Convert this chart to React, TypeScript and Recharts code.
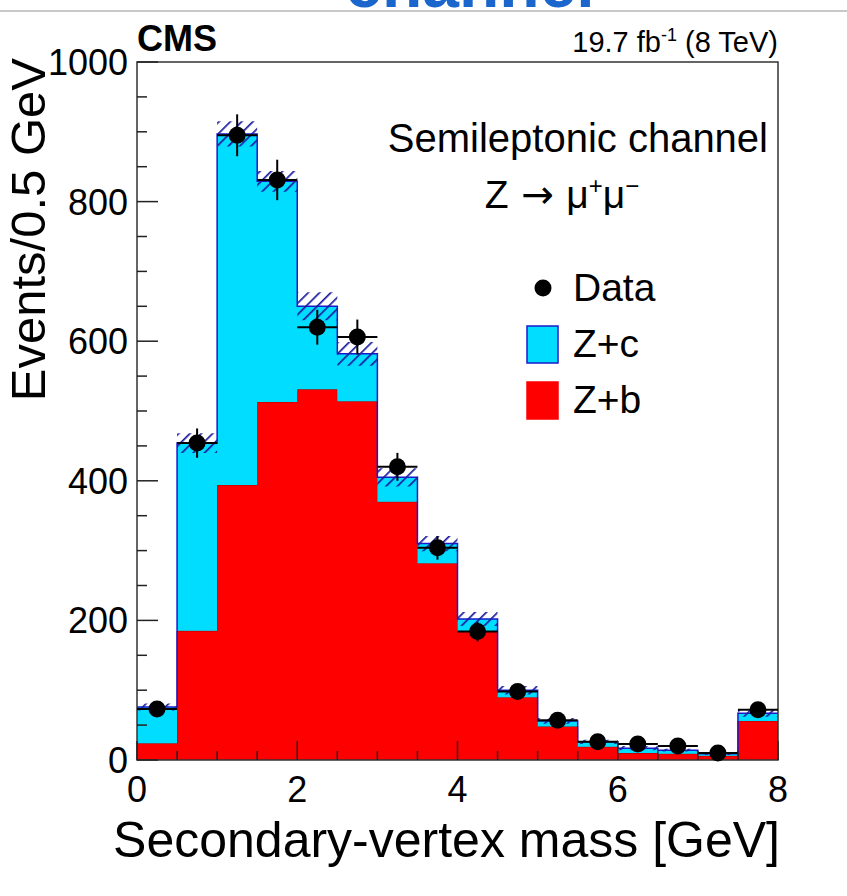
import { ComposedChart, Area, Scatter, ErrorBar, XAxis, YAxis, ReferenceArea, Legend } from 'recharts';

// bin edges of the secondary-vertex mass histogram (GeV)
const binEdges = [0, 0.5, 1, 1.5, 2, 2.5, 3, 3.5, 4, 4.5, 5, 5.5, 6, 6.5, 7, 7.5, 8];

// stacked simulation, events per bin
const zbCounts = [24, 185, 394, 513, 531, 514, 370, 282, 184, 90, 48, 19, 10, 9, 6, 56];
const zcCounts = [52, 269, 503, 316, 119, 68, 35, 28, 18, 10, 8, 7, 7, 5, 3, 11];
const mcErr = [5, 14, 18, 15, 20, 17, 13, 11, 10, 6, 4, 3, 3, 2, 2, 5];

// measured data
const dataCounts = [73, 454, 895, 831, 620, 606, 420, 304, 184, 98, 57, 26, 23, 20, 10, 72];
const dataErr = [9, 21, 30, 29, 25, 25, 20, 17, 14, 10, 8, 5, 5, 4, 3, 8];

const xTicks = binEdges;
const yTicks = [0, 50, 100, 150, 200, 250, 300, 350, 400, 450, 500, 550, 600, 650, 700, 750, 800, 850, 900, 950, 1000];

const ZB_FILL = '#ff0000';
const ZB_LINE = '#990000';
const ZC_FILL = '#00ddff';
const ZC_LINE = '#1a1acc';
const HATCH = '#1a1a9e';

const legendItems = [
  { label: 'Data', kind: 'marker' },
  { label: 'Z+c', kind: 'box', fill: ZC_FILL, stroke: ZC_LINE },
  { label: 'Z+b', kind: 'box', fill: ZB_FILL, stroke: ZB_FILL },
];

// one row per bin edge; the last edge repeats the last bin so the step closes at 8 GeV
const edgeRows = binEdges.map((x, i) => {
  const k = Math.min(i, zbCounts.length - 1);
  const total = zbCounts[k] + zcCounts[k];
  return { x, zb: zbCounts[k], zc: zcCounts[k], band: [total - mcErr[k], total + mcErr[k]] };
});

const points = dataCounts.map((y, i) => ({
  x: (binEdges[i] + binEdges[i + 1]) / 2,
  y,
  err: dataErr[i],
  xerr: (binEdges[i + 1] - binEdges[i]) / 2,
}));

const Y_GAP = 9;
const X_GAP = 16;
const TICK_COLOR = '#222';

const YTick = (props: any) => {
  const { x, y, payload } = props;
  const v = payload.value;
  const major = v % 200 === 0;
  const left = x + Y_GAP;
  return (
    <g>
      <line x1={left} x2={left + (major ? 21 : 10)} y1={y} y2={y} stroke={TICK_COLOR} strokeWidth={1.5} />
      {major && (
        <text x={x} y={y} dy="0.36em" textAnchor="end" fontSize={36} fill="#000">
          {v}
        </text>
      )}
    </g>
  );
};

const XTick = (props: any) => {
  const { x, y, payload } = props;
  const v = payload.value;
  const major = v % 2 === 0;
  const base = y - X_GAP;
  return (
    <g>
      <line x1={x} x2={x} y1={base} y2={base - (major ? 19 : 9)} stroke={TICK_COLOR} strokeWidth={1.5} />
      {major && (
        <text x={x} y={y} dy="0.72em" textAnchor="middle" fontSize={36} fill="#000">
          {v}
        </text>
      )}
    </g>
  );
};

const renderLegend = () => (
  <svg width={240} height={170}>
    {legendItems.map((item, i) => {
      const cy = 28 + i * 56;
      return (
        <g key={item.label}>
          {item.kind === 'marker' ? (
            <circle cx={23} cy={cy} r={8.5} fill="#000" />
          ) : (
            <rect x={7} y={cy - 18} width={31} height={37} fill={item.fill} stroke={item.stroke} strokeWidth={1.5} />
          )}
          <text x={53} y={cy + 13} fontSize={39} fill="#000">
            {item.label}
          </text>
        </g>
      );
    })}
  </svg>
);

const DataDot = (props: any) => <circle cx={props.cx} cy={props.cy} r={8.5} fill="#000" />;

export default function App() {
  return (
    <div
      style={{
        position: 'absolute',
        left: 0,
        top: 0,
        width: 847,
        height: 896,
        background: '#fff',
        fontFamily: '"Liberation Sans", Arial, Helvetica, sans-serif',
      }}
    >
      <ComposedChart
        width={847}
        height={896}
        data={edgeRows}
        margin={{ top: 62, right: 69, bottom: 76, left: 77 }}
      >
        <XAxis
          dataKey="x"
          type="number"
          domain={[0, 8]}
          ticks={xTicks}
          interval={0}
          height={60}
          tickSize={0}
          tickMargin={X_GAP}
          axisLine={false}
          tickLine={false}
          tick={<XTick />}
        />
        <YAxis
          type="number"
          domain={[0, 1000]}
          ticks={yTicks}
          interval={0}
          width={60}
          tickSize={0}
          tickMargin={Y_GAP}
          axisLine={false}
          tickLine={false}
          tick={<YTick />}
        />
        <Area
          type="stepAfter"
          dataKey="zb"
          stackId="mc"
          fill={ZB_FILL}
          fillOpacity={1}
          stroke={ZB_LINE}
          strokeWidth={1}
          isAnimationActive={false}
          activeDot={false}
        />
        <Area
          type="stepAfter"
          dataKey="zc"
          stackId="mc"
          fill={ZC_FILL}
          fillOpacity={1}
          stroke={ZC_LINE}
          strokeWidth={1.5}
          isAnimationActive={false}
          activeDot={false}
        />
        <Area
          type="stepAfter"
          dataKey="band"
          fill="url(#mcHatch)"
          fillOpacity={1}
          stroke="none"
          legendType="none"
          isAnimationActive={false}
          activeDot={false}
        />
        <Scatter data={points} dataKey="y" shape={<DataDot />} isAnimationActive={false}>
          <ErrorBar dataKey="err" direction="y" width={0} stroke="#000" strokeWidth={2} />
          <ErrorBar dataKey="xerr" direction="x" width={0} stroke="#000" strokeWidth={2} />
        </Scatter>
        <ReferenceArea x1={0} x2={8} y1={0} y2={1000} fill="none" stroke="#333" strokeWidth={1.5} />
        <Legend
          layout="vertical"
          align="center"
          verticalAlign="middle"
          content={renderLegend}
          wrapperStyle={{ position: 'absolute', left: 520, top: 260, width: 240, height: 170 }}
        />
      </ComposedChart>

      <svg
        width={847}
        height={896}
        style={{ position: 'absolute', left: 0, top: 0, pointerEvents: 'none' }}
      >
        <defs>
          <pattern id="mcHatch" patternUnits="userSpaceOnUse" width={8} height={8} patternTransform="rotate(45)">
            <line x1={0} y1={0} x2={0} y2={8} stroke={HATCH} strokeWidth={3.4} />
          </pattern>
        </defs>
        <text x={470} y={7} textAnchor="middle" fontSize={66} fontWeight="bold" fill="#1a66cc">
          channel
        </text>
        <line x1={0} x2={847} y1={11} y2={11} stroke="#c8c8c8" strokeWidth={2} />
        <text x={137} y={51} fontSize={36} fontWeight="bold" fill="#000">
          CMS
        </text>
        <text x={778} y={52} fontSize={29} textAnchor="end" fill="#000">
          19.7 fb
          <tspan dy={-11} fontSize={18}>-1</tspan>
          <tspan dy={11}> (8 TeV)</tspan>
        </text>
        <text x={768} y={152} textAnchor="end" fontSize={40} fill="#000">
          Semileptonic channel
        </text>
        <text x={562} y={208} textAnchor="middle" fontSize={39} fill="#000">
          Z
          <tspan fontFamily='"DejaVu Sans", sans-serif'> → </tspan>
          μ
          <tspan dy={-14} fontSize={24}>+</tspan>
          <tspan dy={14}>μ</tspan>
          <tspan dy={-14} fontSize={24}>−</tspan>
        </text>
        <text transform="translate(45,58) rotate(-90)" textAnchor="end" fontSize={49} fill="#000">
          Events/0.5 GeV
        </text>
        <text x={780} y={857} textAnchor="end" fontSize={50} fill="#000">
          Secondary-vertex mass [GeV]
        </text>
      </svg>
    </div>
  );
}
